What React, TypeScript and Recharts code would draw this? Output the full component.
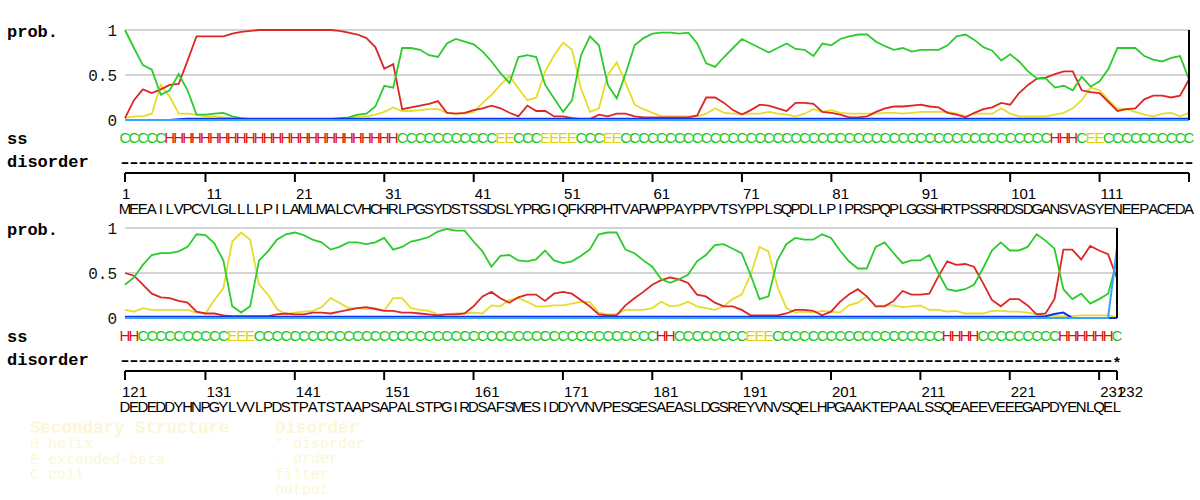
import React from "react";
import { LineChart, Line, XAxis, YAxis, CartesianGrid } from "recharts";

// ---------------- data ----------------
const panel1Start = 1;
const panel2Start = 121;

const sequence1 =
  "MEEAILVPCV" + "LGLLLLPILA" + "MLMALCVHCH" + "RLPGSYDSTS" + "SDSLYPRGIQ" + "FKRPHTVAPW" +
  "PPAYPPVTSY" + "PPLSQPDLLP" + "IPRSPQPLGG" + "SHRTPSSRRD" + "SDGANSVASY" + "ENEEPACEDA";
const sequence2 =
  "DEDEDDYHNP" + "GYLVVLPDST" + "PATSTAAPSA" + "PALSTPGIRD" + "SAFSMESIDD" + "YVNVPESGES" +
  "AEASLDGSRE" + "YVNVSQELHP" + "GAAKTEPAAL" + "SSQEAEEVEE" + "EGAPDYENLQ" + "EL";

const ss1 =
  "CCCCC" +
  "HHHHHHHHHH" + "HHHHHHHHHH" + "HHHHHH" +
  "CCCCCCCCCC" + "C" +
  "EE" + "CCC" + "EEEE" + "CCC" + "EE" +
  "CCCCCCCCCC" + "CCCCCCCCCC" + "CCCCCCCCCC" + "CCCCCCCCCC" + "CCCCCCCC" +
  "HHH" + "C" + "EE" +
  "CCCCCCCCCC";
const ss2 =
  "HH" +
  "CCCCCCCCCC" +
  "EEE" +
  "CCCCCCCCCC" + "CCCCCCCCCC" + "CCCCCCCCCC" + "CCCCCCCCCC" + "CCCCC" +
  "HH" +
  "CCCCCCCC" +
  "EEE" +
  "CCCCCCCCCC" + "CCCCCCCCC" +
  "HHHH" +
  "CCCCCCCCC" +
  "HHHHHH" +
  "C";

const disorder1 =
  "----------" + "----------" + "----------" + "----------" + "----------" + "----------" +
  "----------" + "----------" + "----------" + "----------" + "----------" + "----------";
const disorder2 =
  "----------" + "----------" + "----------" + "----------" + "----------" + "----------" +
  "----------" + "----------" + "----------" + "----------" + "----------" + "-*";

const helix1 = [
  0.02, 0.22, 0.34, 0.30, 0.34, 0.39, 0.40, 0.66, 0.93, 0.93,
  0.93, 0.93, 0.96, 0.98, 0.99, 1.0, 1.0, 1.0, 1.0, 1.0,
  1.0, 1.0, 1.0, 1.0, 0.99, 0.97, 0.95, 0.91, 0.81, 0.57,
  0.62, 0.12, 0.14, 0.16, 0.18, 0.21, 0.08, 0.07, 0.08, 0.11,
  0.13, 0.16, 0.13, 0.08, 0.04, 0.16, 0.10, 0.10, 0.04, 0.04,
  0.02, 0.01, 0.01, 0.06, 0.04, 0.07, 0.07, 0.04, 0.03, 0.03,
  0.03, 0.03, 0.03, 0.03, 0.05, 0.25, 0.25, 0.19, 0.11, 0.06,
  0.11, 0.17, 0.16, 0.13, 0.10, 0.19, 0.19, 0.18, 0.09, 0.08,
  0.06, 0.03, 0.03, 0.04, 0.09, 0.13, 0.15, 0.15, 0.16, 0.17,
  0.15, 0.14, 0.08, 0.06, 0.03, 0.08, 0.12, 0.14, 0.19, 0.17,
  0.30, 0.39, 0.46, 0.47, 0.51, 0.54, 0.54, 0.33, 0.31, 0.30,
  0.20, 0.10, 0.12, 0.13, 0.23, 0.27, 0.27, 0.25, 0.27, 0.45,
];
const strand1 = [
  0.02, 0.04, 0.04, 0.07, 0.39, 0.26, 0.07, 0.07, 0.06, 0.04,
  0.04, 0.03, 0.02, 0.01, 0.01, 0.01, 0.01, 0.01, 0.01, 0.01,
  0.01, 0.01, 0.01, 0.01, 0.01, 0.02, 0.04, 0.04, 0.06, 0.09,
  0.14, 0.10, 0.10, 0.11, 0.12, 0.12, 0.08, 0.07, 0.07, 0.09,
  0.19, 0.28, 0.39, 0.49, 0.35, 0.22, 0.25, 0.54, 0.72, 0.86,
  0.78, 0.35, 0.09, 0.13, 0.50, 0.64, 0.41, 0.17, 0.12, 0.08,
  0.04, 0.04, 0.04, 0.04, 0.04, 0.07, 0.13, 0.08, 0.07, 0.07,
  0.07, 0.07, 0.09, 0.07, 0.06, 0.04, 0.07, 0.12, 0.09, 0.11,
  0.08, 0.07, 0.07, 0.07, 0.07, 0.08, 0.08, 0.07, 0.08, 0.09,
  0.09, 0.09, 0.09, 0.07, 0.04, 0.07, 0.07, 0.07, 0.13, 0.07,
  0.04, 0.04, 0.04, 0.04, 0.06, 0.08, 0.13, 0.22, 0.36, 0.33,
  0.22, 0.13, 0.12, 0.09, 0.06, 0.04, 0.07, 0.08, 0.04, 0.08,
];
const coil1 = [
  1.0, 0.80, 0.61, 0.56, 0.28, 0.33, 0.51, 0.33, 0.06, 0.06,
  0.07, 0.08, 0.04, 0.02, 0.01, 0.01, 0.01, 0.01, 0.01, 0.01,
  0.01, 0.01, 0.01, 0.01, 0.02, 0.03, 0.06, 0.07, 0.15, 0.38,
  0.36, 0.80, 0.80, 0.78, 0.72, 0.70, 0.85, 0.90, 0.87, 0.84,
  0.76, 0.65, 0.52, 0.41, 0.70, 0.72, 0.70, 0.39, 0.24, 0.09,
  0.22, 0.72, 0.93, 0.83, 0.39, 0.24, 0.52, 0.83, 0.91, 0.96,
  0.97, 0.97, 0.96, 0.97, 0.85, 0.63, 0.59, 0.70, 0.80, 0.90,
  0.85, 0.80, 0.75, 0.80, 0.85, 0.79, 0.78, 0.71, 0.85, 0.83,
  0.90, 0.93, 0.95, 0.95, 0.87, 0.82, 0.78, 0.80, 0.76, 0.78,
  0.78, 0.78, 0.83, 0.93, 0.95, 0.89, 0.81, 0.77, 0.66, 0.73,
  0.65, 0.54, 0.46, 0.46, 0.36, 0.38, 0.33, 0.48, 0.37, 0.43,
  0.57, 0.80, 0.80, 0.80, 0.71, 0.67, 0.65, 0.69, 0.71, 0.45,
];
const disFilter1 = [
  0, 0, 0, 0, 0, 0, 0.008, 0.015, 0.015, 0.015,
  0.015, 0.015, 0.015, 0.015, 0.015, 0.015, 0.015, 0.015, 0.015, 0.015,
  0.015, 0.015, 0.015, 0.015, 0.015, 0.015, 0.015, 0.015, 0.015, 0.015,
  0.015, 0.015, 0.015, 0.015, 0.015, 0.015, 0.015, 0.015, 0.015, 0.015,
  0.015, 0.015, 0.015, 0.015, 0.015, 0.015, 0.015, 0.015, 0.015, 0.015,
  0.015, 0.015, 0.015, 0.015, 0.015, 0.015, 0.015, 0.015, 0.015, 0.015,
  0.015, 0.015, 0.015, 0.015, 0.015, 0.015, 0.015, 0.015, 0.015, 0.015,
  0.015, 0.015, 0.015, 0.015, 0.015, 0.015, 0.015, 0.015, 0.015, 0.015,
  0.015, 0.015, 0.015, 0.015, 0.015, 0.015, 0.015, 0.015, 0.015, 0.015,
  0.015, 0.015, 0.015, 0.015, 0.015, 0.015, 0.015, 0.015, 0.015, 0.015,
  0.015, 0.015, 0.015, 0.015, 0.015, 0.015, 0.015, 0.015, 0.015, 0.015,
  0.015, 0.015, 0.015, 0.015, 0.015, 0.015, 0.015, 0.015, 0.015, 0.015,
];
const disOutput1 = [
  0, 0, 0, 0, 0, 0, 0, 0, 0, 0,
  0, 0, 0, 0, 0, 0, 0, 0, 0, 0,
  0, 0, 0, 0, 0, 0, 0, 0, 0, 0,
  0, 0, 0, 0, 0, 0, 0, 0, 0, 0,
  0, 0, 0, 0, 0, 0, 0, 0, 0, 0,
  0, 0, 0, 0, 0, 0, 0, 0, 0, 0,
  0, 0, 0, 0, 0, 0, 0, 0, 0, 0,
  0, 0, 0, 0, 0, 0, 0, 0, 0, 0,
  0, 0, 0, 0, 0, 0, 0, 0, 0, 0,
  0, 0, 0, 0, 0, 0, 0, 0, 0, 0,
  0, 0, 0, 0, 0, 0, 0, 0, 0, 0,
  0, 0, 0, 0, 0, 0, 0, 0, 0, 0,
];

const helix2 = [
  0.50, 0.47, 0.37, 0.27, 0.23, 0.22, 0.19, 0.17, 0.07, 0.05,
  0.05, 0.03, 0.02, 0.02, 0.02, 0.02, 0.02, 0.04, 0.05, 0.04,
  0.04, 0.06, 0.06, 0.05, 0.07, 0.09, 0.11, 0.12, 0.10, 0.08,
  0.08, 0.06, 0.06, 0.05, 0.04, 0.03, 0.04, 0.04, 0.05, 0.13,
  0.24, 0.29, 0.22, 0.17, 0.23, 0.26, 0.26, 0.19, 0.27, 0.29,
  0.27, 0.20, 0.13, 0.04, 0.03, 0.03, 0.14, 0.22, 0.29, 0.37,
  0.42, 0.45, 0.43, 0.39, 0.26, 0.24, 0.17, 0.13, 0.13, 0.09,
  0.03, 0.03, 0.03, 0.03, 0.05, 0.09, 0.09, 0.08, 0.03, 0.07,
  0.18, 0.26, 0.32, 0.24, 0.13, 0.13, 0.19, 0.30, 0.26, 0.26,
  0.27, 0.46, 0.63, 0.59, 0.60, 0.57, 0.39, 0.20, 0.13, 0.21,
  0.21, 0.14, 0.04, 0.05, 0.21, 0.76, 0.76, 0.65, 0.80, 0.75,
  0.71, 0.44,
];
const strand2 = [
  0.09, 0.07, 0.11, 0.09, 0.09, 0.09, 0.09, 0.09, 0.06, 0.05,
  0.20, 0.33, 0.85, 0.95, 0.87, 0.37, 0.26, 0.10, 0.04, 0.06,
  0.07, 0.08, 0.12, 0.22, 0.17, 0.11, 0.11, 0.10, 0.11, 0.08,
  0.22, 0.22, 0.11, 0.09, 0.08, 0.04, 0.04, 0.05, 0.05, 0.06,
  0.05, 0.14, 0.13, 0.20, 0.22, 0.18, 0.13, 0.13, 0.14, 0.14,
  0.16, 0.18, 0.18, 0.06, 0.04, 0.04, 0.09, 0.09, 0.09, 0.11,
  0.18, 0.13, 0.14, 0.18, 0.13, 0.11, 0.09, 0.13, 0.21, 0.26,
  0.48, 0.79, 0.74, 0.35, 0.11, 0.06, 0.07, 0.06, 0.08, 0.07,
  0.06, 0.14, 0.17, 0.24, 0.13, 0.14, 0.14, 0.12, 0.13, 0.14,
  0.09, 0.09, 0.07, 0.08, 0.05, 0.05, 0.05, 0.08, 0.08, 0.07,
  0.07, 0.06, 0.04, 0.03, 0.02, 0.02, 0.02, 0.03, 0.03, 0.03,
  0.03, 0.01,
];
const coil2 = [
  0.37, 0.45, 0.59, 0.70, 0.72, 0.72, 0.74, 0.79, 0.93, 0.92,
  0.83, 0.64, 0.13, 0.06, 0.13, 0.64, 0.74, 0.87, 0.93, 0.95,
  0.92, 0.87, 0.84, 0.76, 0.79, 0.84, 0.84, 0.82, 0.84, 0.89,
  0.76, 0.79, 0.85, 0.87, 0.90, 0.96, 0.99, 0.97, 0.97, 0.85,
  0.74, 0.57, 0.69, 0.70, 0.64, 0.63, 0.65, 0.75, 0.64, 0.61,
  0.63, 0.69, 0.76, 0.93, 0.95, 0.95, 0.76, 0.72, 0.64, 0.57,
  0.43, 0.39, 0.43, 0.48, 0.63, 0.70, 0.81, 0.82, 0.77, 0.72,
  0.48, 0.21, 0.24, 0.64, 0.82, 0.89, 0.87, 0.87, 0.93, 0.89,
  0.75, 0.63, 0.55, 0.55, 0.79, 0.84, 0.72, 0.61, 0.64, 0.64,
  0.70, 0.50, 0.32, 0.30, 0.32, 0.37, 0.55, 0.75, 0.84, 0.75,
  0.75, 0.79, 0.93, 0.86, 0.77, 0.32, 0.21, 0.27, 0.16, 0.21,
  0.27, 0.63,
];
const disFilter2 = [
  0.015, 0.015, 0.015, 0.015, 0.015, 0.015, 0.015, 0.015, 0.015, 0.015,
  0.015, 0.015, 0.015, 0.015, 0.015, 0.015, 0.015, 0.015, 0.015, 0.015,
  0.015, 0.015, 0.015, 0.015, 0.015, 0.015, 0.015, 0.015, 0.015, 0.015,
  0.015, 0.015, 0.015, 0.015, 0.015, 0.015, 0.015, 0.015, 0.015, 0.015,
  0.015, 0.015, 0.015, 0.015, 0.015, 0.015, 0.015, 0.015, 0.015, 0.015,
  0.015, 0.015, 0.015, 0.015, 0.015, 0.015, 0.015, 0.015, 0.015, 0.015,
  0.015, 0.015, 0.015, 0.015, 0.015, 0.015, 0.015, 0.015, 0.015, 0.015,
  0.015, 0.015, 0.015, 0.015, 0.015, 0.015, 0.015, 0.015, 0.015, 0.015,
  0.015, 0.015, 0.015, 0.015, 0.015, 0.015, 0.015, 0.015, 0.015, 0.015,
  0.015, 0.015, 0.015, 0.015, 0.015, 0.015, 0.015, 0.015, 0.015, 0.015,
  0.015, 0.015, 0.015, 0.02, 0.045, 0.06, 0, 0, 0, 0,
  0, 0,
];
const disOutput2 = [
  0, 0, 0, 0, 0, 0, 0, 0, 0, 0,
  0, 0, 0, 0, 0, 0, 0, 0, 0, 0,
  0, 0, 0, 0, 0, 0, 0, 0, 0, 0,
  0, 0, 0, 0, 0, 0, 0, 0, 0, 0,
  0, 0, 0, 0, 0, 0, 0, 0, 0, 0,
  0, 0, 0, 0, 0, 0, 0, 0, 0, 0,
  0, 0, 0, 0, 0, 0, 0, 0, 0, 0,
  0, 0, 0, 0, 0, 0, 0, 0, 0, 0,
  0, 0, 0, 0, 0, 0, 0, 0, 0, 0,
  0, 0, 0, 0, 0, 0, 0, 0, 0, 0,
  0, 0, 0, 0, 0, 0, 0, 0, 0, 0,
  0, 0.78,
];

const ticks1 = [1, 11, 21, 31, 41, 51, 61, 71, 81, 91, 101, 111, 120];
const tickLabels1 = ["1", "11", "21", "31", "41", "51", "61", "71", "81", "91", "101", "111", ""];
const ticks2 = [121, 131, 141, 151, 161, 171, 181, 191, 201, 211, 221, 231, 232];
const tickLabels2 = ["121", "131", "141", "151", "161", "171", "181", "191", "201", "211", "221", "231", "232"];

const yTicks = [0, 0.5, 1];

const legendSS = ["Secondary Structure", "H helix", "E extended-beta", "C coil"];
const legendDis = ["Disorder", "* disorder", "- order", "filter", "output"];

// ---------------- styling ----------------
const RED = "#dd2626";
const GREEN = "#2ccb2c";
const YELLOW = "#e6dc2a";
const BLUE = "#1030f0";
const LIGHTBLUE = "#35a6ff";
const SS_COLORS: Record<string, string> = { H: "#dd1010", E: "#e2d200", C: "#14c814" };
const SANS = "'Liberation Sans', Arial, sans-serif";
const MONO = "'Liberation Mono', 'DejaVu Sans Mono', monospace";
const PLOT_LEFT = 125;
const CHART_H = 225;

type Row = {
  res: number; helix: number; strand: number; coil: number; filt: number; out: number;
  aa: string; ss: string; dis: string;
};

function buildRows(
  start: number, seq: string, ss: string, dis: string,
  helix: number[], strand: number[], coil: number[], filt: number[], out: number[]
): Row[] {
  return helix.map((h, i) => ({
    res: start + i, helix: h, strand: strand[i], coil: coil[i], filt: filt[i], out: out[i],
    aa: seq[i] || "", ss: ss[i] || "", dis: dis[i] || "",
  }));
}

const rows1 = buildRows(panel1Start, sequence1, ss1, disorder1, helix1, strand1, coil1, disFilter1, disOutput1);
const rows2 = buildRows(panel2Start, sequence2, ss2, disorder2, helix2, strand2, coil2, disFilter2, disOutput2);

function Panel({ rows, ticks, labels, plotRight }: { rows: Row[]; ticks: number[]; labels: string[]; plotRight: number }) {
  const first = rows[0].res;
  const last = rows[rows.length - 1].res;
  const step = (plotRight - PLOT_LEFT) / (last - first);
  const resList = rows.map((r) => r.res);
  const byRes = new Map(rows.map((r) => [r.res, r] as [number, Row]));

  const RowTick = (p: any) => {
    const r = byRes.get(p.payload.value);
    if (!r) return <g />;
    return (
      <g>
        <text x={p.x} y={p.y + 23.3} textAnchor="middle" fontFamily={SANS} fontSize={15} fill={SS_COLORS[r.ss] || "#000"}>
          {r.ss}
        </text>
        {r.dis === "*" ? (
          <text x={p.x} y={p.y + 49} textAnchor="middle" fontFamily={SANS} fontWeight="bold" fontSize={15} fill="#000">
            {r.dis}
          </text>
        ) : (
          <text
            transform={`translate(${p.x},${p.y + 46.7}) scale(1.7,1)`}
            x={0}
            y={0}
            textAnchor="middle"
            fontFamily={SANS}
            fontWeight="bold"
            fontSize={15}
            fill="#000"
          >
            {r.dis}
          </text>
        )}
      </g>
    );
  };

  const NumTick = (p: any) => {
    const v = p.payload.value;
    const idx = ticks.indexOf(v);
    const edge = idx === 0 || idx === ticks.length - 1;
    const tx = edge ? p.x : p.x - step;
    return (
      <g>
        <line x1={tx} x2={tx} y1={p.y} y2={p.y + 9} stroke="#000" strokeWidth={2} />
        <text x={tx + (idx === 0 ? -3 : 1)} y={p.y + 26.3} textAnchor="start" fontFamily={SANS} fontSize={15} fill="#000">
          {labels[idx]}
        </text>
      </g>
    );
  };

  const SeqTick = (p: any) => {
    const r = byRes.get(p.payload.value);
    if (!r) return <g />;
    return (
      <text x={p.x} y={p.y + 11} textAnchor="middle" fontFamily={SANS} fontSize={15} fill="#000">
        {r.aa}
      </text>
    );
  };

  return (
    <LineChart
      width={1200}
      height={CHART_H}
      data={rows}
      margin={{ top: 30, right: 1200 - plotRight - 1, bottom: 2, left: PLOT_LEFT - 40 }}
    >
      <CartesianGrid xAxisId="a_rows" yAxisId="left" vertical={false} stroke="#c6c6c6" strokeWidth={1.5} />
      <XAxis
        xAxisId="a_rows" dataKey="res" type="number" domain={[first, last]} ticks={resList} interval={0}
        tick={RowTick} tickLine={false} axisLine={false} tickSize={0} tickMargin={0} height={53}
      />
      <XAxis
        xAxisId="b_num" dataKey="res" type="number" domain={[first, last]} ticks={ticks} interval={0}
        tick={NumTick} tickLine={false} axisLine={{ stroke: "#000", strokeWidth: 2 }} tickSize={0} tickMargin={0} height={30}
      />
      <XAxis
        xAxisId="c_seq" dataKey="res" type="number" domain={[first, last]} ticks={resList} interval={0}
        tick={SeqTick} tickLine={false} axisLine={false} tickSize={0} tickMargin={0} height={20}
      />
      <YAxis
        yAxisId="left" domain={[0, 1]} ticks={yTicks} width={40} axisLine={false} tickLine={false}
        tick={{ fontFamily: MONO, fontSize: 16, fill: "#111" }}
      />
      <YAxis
        yAxisId="right" orientation="right" domain={[0, 1]} width={1} tick={false} tickLine={false}
        axisLine={{ stroke: "#000", strokeWidth: 2 }}
      />
      <Line xAxisId="a_rows" yAxisId="left" type="linear" dataKey="strand" stroke={YELLOW} strokeWidth={1.8} dot={false} isAnimationActive={false} />
      <Line xAxisId="a_rows" yAxisId="left" type="linear" dataKey="helix" stroke={RED} strokeWidth={1.8} dot={false} isAnimationActive={false} />
      <Line xAxisId="a_rows" yAxisId="left" type="linear" dataKey="coil" stroke={GREEN} strokeWidth={1.8} dot={false} isAnimationActive={false} />
      <Line xAxisId="a_rows" yAxisId="left" type="linear" dataKey="filt" stroke={BLUE} strokeWidth={2} dot={false} isAnimationActive={false} />
      <Line xAxisId="a_rows" yAxisId="left" type="linear" dataKey="out" stroke={LIGHTBLUE} strokeWidth={2} dot={false} isAnimationActive={false} />
    </LineChart>
  );
}

const PANEL_OFFSET = 198;

export default function App() {
  const rowLabels = [
    { text: "prob.", y: 37.3 },
    { text: "ss", y: 144 },
    { text: "disorder", y: 166.7 },
  ];
  const legendColor = "#fbf7d4";
  return (
    <div style={{ position: "absolute", left: 0, top: 0, width: 1200, height: 500, background: "#fff", overflow: "hidden" }}>
      <div style={{ position: "absolute", left: 0, top: 0 }}>
        <Panel rows={rows1} ticks={ticks1} labels={tickLabels1} plotRight={1189} />
      </div>
      <div style={{ position: "absolute", left: 0, top: PANEL_OFFSET }}>
        <Panel rows={rows2} ticks={ticks2} labels={tickLabels2} plotRight={1117} />
      </div>
      <svg width={1200} height={500} style={{ position: "absolute", left: 0, top: 0, pointerEvents: "none" }}>
        {[0, PANEL_OFFSET].map((off) =>
          rowLabels.map((l) => (
            <text key={`${off}-${l.text}`} x={7} y={l.y + off} fontFamily={MONO} fontWeight="bold" fontSize={17} fill="#000">
              {l.text}
            </text>
          ))
        )}
        {legendSS.map((t, i) => (
          <text
            key={t}
            x={30}
            y={433 + i * 15.4}
            fontFamily={MONO}
            fontWeight={i === 0 ? "bold" : "normal"}
            fontSize={i === 0 ? 17.5 : 15}
            fill={legendColor}
          >
            {t}
          </text>
        ))}
        {legendDis.map((t, i) => (
          <text
            key={t}
            x={275}
            y={433 + i * 15.2}
            fontFamily={MONO}
            fontWeight={i === 0 ? "bold" : "normal"}
            fontSize={i === 0 ? 17.5 : 15}
            fill={legendColor}
          >
            {t}
          </text>
        ))}
      </svg>
    </div>
  );
}
